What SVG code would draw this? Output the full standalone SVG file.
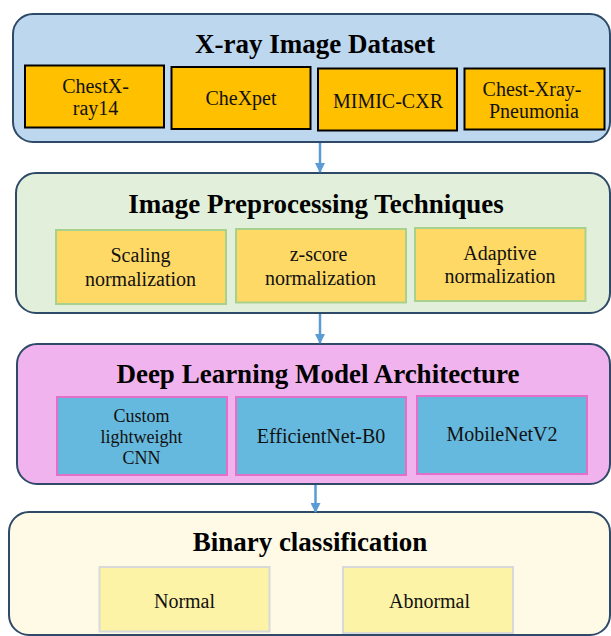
<svg xmlns="http://www.w3.org/2000/svg" width="611" height="636" viewBox="0 0 611 636">
<defs>
<style>
.panel{stroke:#2F4A68;stroke-width:2}
.title{font-family:"Liberation Serif","Times New Roman",serif;font-weight:bold;font-size:27px;fill:#000;text-anchor:middle}
.lbl{font-family:"Liberation Serif","Times New Roman",serif;font-size:20px;fill:#111;text-anchor:middle}
.lbl18{font-family:"Liberation Serif","Times New Roman",serif;font-size:18px;fill:#111;text-anchor:middle}
.ds{fill:#FFC000;stroke:#000;stroke-width:2}
.pp{fill:#FFD966;stroke:#A9D18E;stroke-width:2}
.md{fill:#66B9DE;stroke:#E36FC9;stroke-width:2}
.bc{fill:#FCF3A7;stroke:#D9D9D9;stroke-width:2}
.conn{stroke:#5B9BD5;stroke-width:2.5;fill:none}
</style>
<marker id="ah" markerWidth="10" markerHeight="10" refX="9" refY="5" orient="auto" markerUnits="userSpaceOnUse">
<path d="M0,0 L10,5 L0,10 Z" fill="#5B9BD5"/>
</marker>
</defs>

<g id="dataset">
<rect class="panel" x="13" y="14" width="597" height="128" rx="20" fill="#BDD7EE"/>
<text class="title" x="315" y="53">X-ray Image Dataset</text>
<g id="chestx-ray14">
<rect class="ds" x="25" y="65.5" width="139" height="62"/>
<text class="lbl" x="95.5" y="93">ChestX-</text>
<text class="lbl" x="95.5" y="115">ray14</text>
</g>
<g id="chexpet">
<rect class="ds" x="171.5" y="67" width="139" height="62"/>
<text class="lbl" x="241" y="105">CheXpet</text>
</g>
<g id="mimic-cxr">
<rect class="ds" x="318" y="68.5" width="139" height="62"/>
<text class="lbl" x="388" y="108">MIMIC-CXR</text>
</g>
<g id="chest-xray-pneumonia">
<rect class="ds" x="464.5" y="68.5" width="140" height="61"/>
<text class="lbl" x="532" y="96">Chest-Xray-</text>
<text class="lbl" x="534" y="118">Pneumonia</text>
</g>
</g>

<g id="preprocessing">
<rect class="panel" x="16" y="173" width="594" height="140" rx="20" fill="#E2EFDA"/>
<text class="title" x="316" y="213">Image Preprocessing Techniques</text>
<g id="scaling">
<rect class="pp" x="56" y="230" width="170" height="74"/>
<text class="lbl" x="140.5" y="262">Scaling</text>
<text class="lbl" x="140.5" y="286">normalization</text>
</g>
<g id="zscore">
<rect class="pp" x="236" y="229" width="170" height="73.5"/>
<text class="lbl" x="318.5" y="261">z-score</text>
<text class="lbl" x="320.5" y="285">normalization</text>
</g>
<g id="adaptive">
<rect class="pp" x="415" y="228" width="170.5" height="73"/>
<text class="lbl" x="500" y="260">Adaptive</text>
<text class="lbl" x="500" y="283">normalization</text>
</g>
</g>

<g id="model">
<rect class="panel" x="17" y="344" width="593" height="140" rx="20" fill="#F1B3EE"/>
<text class="title" x="318" y="383">Deep Learning Model Architecture</text>
<g id="custom-cnn">
<rect class="md" x="57" y="397" width="170" height="78"/>
<text class="lbl18" x="141.5" y="422">Custom</text>
<text class="lbl18" x="141.5" y="443">lightweight</text>
<text class="lbl18" x="141.5" y="464">CNN</text>
</g>
<g id="efficientnet">
<rect class="md" x="236" y="397" width="170" height="78"/>
<text class="lbl" x="321" y="443">EfficientNet-B0</text>
</g>
<g id="mobilenet">
<rect class="md" x="417" y="396" width="170" height="78"/>
<text class="lbl" x="502" y="441">MobileNetV2</text>
</g>
</g>

<g id="classification">
<rect class="panel" x="9" y="512" width="601" height="123" rx="20" fill="#FEFAE6"/>
<text class="title" x="310" y="551">Binary classification</text>
<g id="normal">
<rect class="bc" x="99.5" y="567" width="170" height="64.5"/>
<text class="lbl" x="184.5" y="608">Normal</text>
</g>
<g id="abnormal">
<rect class="bc" x="343" y="567" width="170" height="66"/>
<text class="lbl" x="429.5" y="608">Abnormal</text>
</g>
</g>

<g id="connectors">
<line class="conn" x1="320" y1="143" x2="320" y2="172" marker-end="url(#ah)"/>
<line class="conn" x1="320" y1="314" x2="320" y2="343" marker-end="url(#ah)"/>
<line class="conn" x1="315.5" y1="485" x2="315.5" y2="512" marker-end="url(#ah)"/>
</g>
</svg>
